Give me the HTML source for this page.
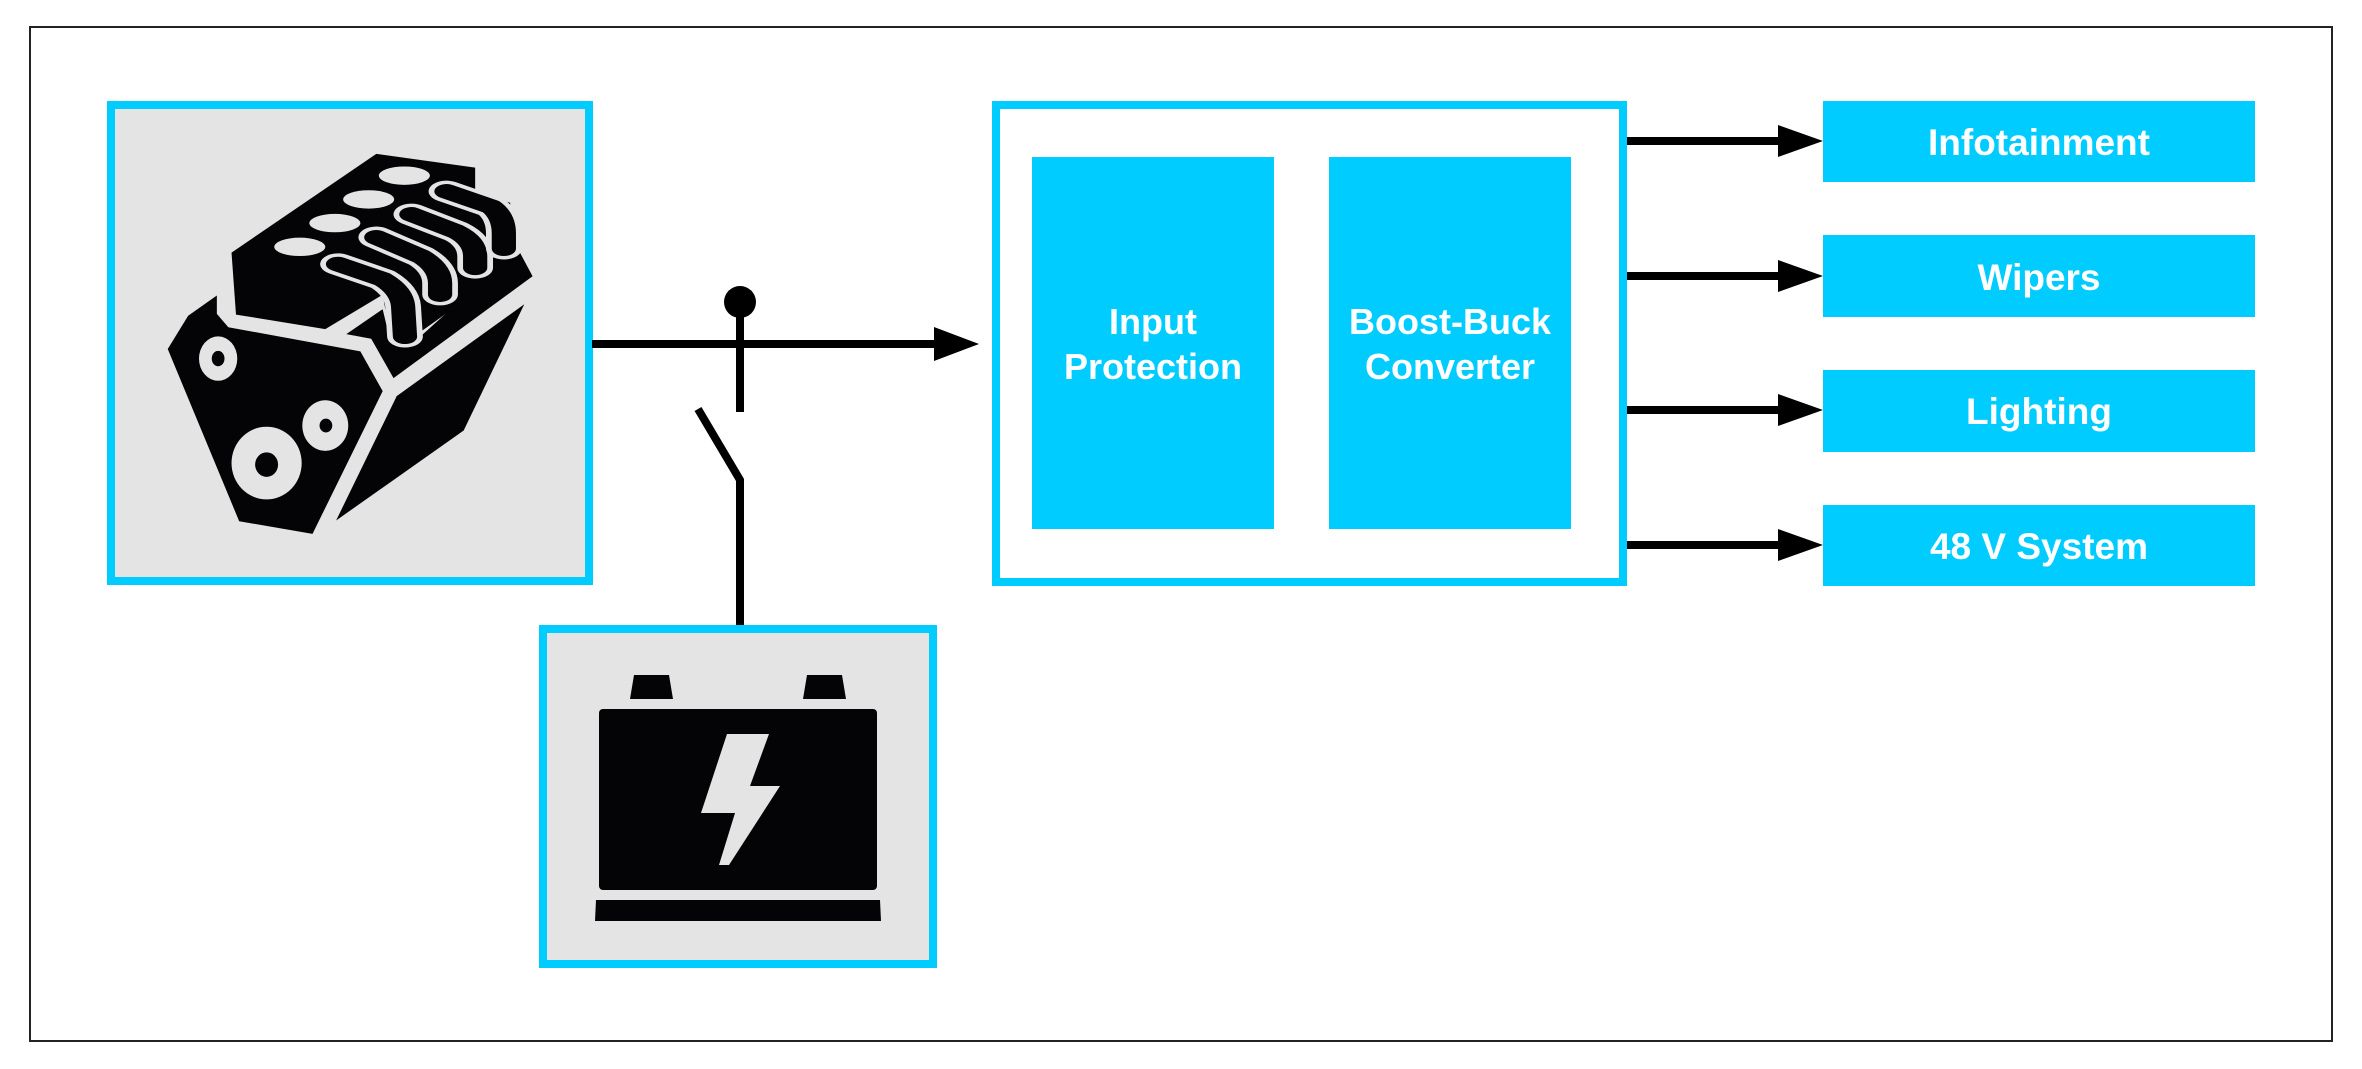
<!DOCTYPE html>
<html><head><meta charset="utf-8"><style>
html,body{margin:0;padding:0;background:#fff;}
body{width:2362px;height:1069px;position:relative;overflow:hidden;font-family:"Liberation Sans",sans-serif;}
</style></head><body>
<svg width="2362" height="1069" viewBox="0 0 2362 1069" xmlns="http://www.w3.org/2000/svg" style="position:absolute;left:0;top:0">
<rect x="30" y="27" width="2302" height="1014" fill="none" stroke="#222" stroke-width="2"/>
<!-- engine box -->
<rect x="111" y="105" width="478" height="476" fill="#e4e4e4" stroke="#00ccff" stroke-width="8"/>
<g transform="scale(0.6378,0.3827)" fill="#040406">
  <polygon points="363,660 590,402 745,438 745,498 800,530 800,700 640,890 612,880 600,770 510,860 370,822"/>
  <polygon points="340,772 340,820 358,855 565,918 600,1022 490,1395 375,1362 263,912 295,825"/>
  <polygon points="622,1035 822,795 727,1125 527,1360"/>
  <polygon points="543,873 600,808 612,892 640,908 812,650 835,722 617,988 582,885"/>
  <g fill="#e4e4e4">
    <ellipse cx="634" cy="459" rx="40" ry="24"/>
    <ellipse cx="578" cy="521" rx="40" ry="24"/>
    <ellipse cx="525" cy="583" rx="40" ry="24"/>
    <ellipse cx="470" cy="645" rx="40" ry="24"/>
    <ellipse cx="342" cy="937" rx="30" ry="58"/>
    <ellipse cx="510" cy="1112" rx="36" ry="66"/>
    <ellipse cx="418" cy="1210" rx="55" ry="95"/>
  </g>
  <ellipse cx="342" cy="937" rx="10" ry="20"/>
  <ellipse cx="511" cy="1112" rx="10" ry="18"/>
  <ellipse cx="418" cy="1214" rx="18" ry="32"/>
  <g fill="none" stroke-linecap="round" stroke-linejoin="round">
    <path d="M530,690 L600,730 Q630,760 632,800 L635,880" stroke="#e4e4e4" stroke-width="56"/>
    <path d="M530,690 L600,730 Q630,760 632,800 L635,880" stroke="#040406" stroke-width="38"/>
    <path d="M590,620 L660,670 Q690,700 690,740 L690,770" stroke="#e4e4e4" stroke-width="56"/>
    <path d="M590,620 L660,670 Q690,700 690,740 L690,770" stroke="#040406" stroke-width="38"/>
    <path d="M645,560 L715,605 Q745,630 745,670 L745,700" stroke="#e4e4e4" stroke-width="56"/>
    <path d="M645,560 L715,605 Q745,630 745,670 L745,700" stroke="#040406" stroke-width="38"/>
    <path d="M700,500 L770,540 Q790,565 790,610 L790,650" stroke="#e4e4e4" stroke-width="56"/>
    <path d="M700,500 L770,540 Q790,565 790,610 L790,650" stroke="#040406" stroke-width="38"/>
  </g>
</g>
<!-- main line & switch -->
<line x1="592" y1="344" x2="940" y2="344" stroke="#000" stroke-width="8"/>
<polygon points="934,327 979,344 934,361" fill="#000"/>
<ellipse cx="740" cy="302" rx="16" ry="16" fill="#000"/>
<line x1="740" y1="302" x2="740" y2="412" stroke="#000" stroke-width="8"/>
<polyline points="698,409 740,480 740,626" fill="none" stroke="#000" stroke-width="8"/>
<!-- battery box -->
<rect x="543" y="629" width="390" height="335" fill="#e4e4e4" stroke="#00ccff" stroke-width="8"/>
<rect x="599" y="709" width="278" height="181" rx="4" fill="#040406"/>
<polygon points="634,675 669,675 673,699 630,699" fill="#040406"/>
<polygon points="807,675 842,675 846,699 803,699" fill="#040406"/>
<polygon points="596,900 880,900 881,921 595,921" fill="#040406"/>
<polygon points="727,734 769,734 750,786 780,786 729,865 719,865 735,813 701,813" fill="#e4e4e4"/>
<!-- converter -->
<rect x="996" y="105" width="627" height="477" fill="#fff" stroke="#00ccff" stroke-width="8"/>
<rect x="1032" y="157" width="242" height="372" fill="#00ccff"/>
<rect x="1329" y="157" width="242" height="372" fill="#00ccff"/>
<g font-family="Liberation Sans, sans-serif" font-weight="bold" font-size="36" fill="#fff" text-anchor="middle">
<text x="1153" y="334">Input</text>
<text x="1153" y="379">Protection</text>
<text x="1450" y="334">Boost-Buck</text>
<text x="1450" y="379">Converter</text>
</g>
<!-- outputs -->
<g fill="#000">
<rect x="1627" y="137" width="156" height="8"/><polygon points="1778,125 1823,141 1778,157"/>
<rect x="1627" y="272" width="156" height="8"/><polygon points="1778,260 1823,276 1778,292"/>
<rect x="1627" y="406" width="156" height="8"/><polygon points="1778,394 1823,410 1778,426"/>
<rect x="1627" y="541" width="156" height="8"/><polygon points="1778,529 1823,545 1778,561"/>
</g>
<g fill="#00ccff">
<rect x="1823" y="101" width="432" height="81"/>
<rect x="1823" y="235" width="432" height="82"/>
<rect x="1823" y="370" width="432" height="82"/>
<rect x="1823" y="505" width="432" height="81"/>
</g>
<g font-family="Liberation Sans, sans-serif" font-weight="bold" font-size="37" fill="#fff" text-anchor="middle">
<text x="2039" y="155">Infotainment</text>
<text x="2039" y="290">Wipers</text>
<text x="2039" y="424">Lighting</text>
<text x="2039" y="559">48 V System</text>
</g>
</svg>
</body></html>
